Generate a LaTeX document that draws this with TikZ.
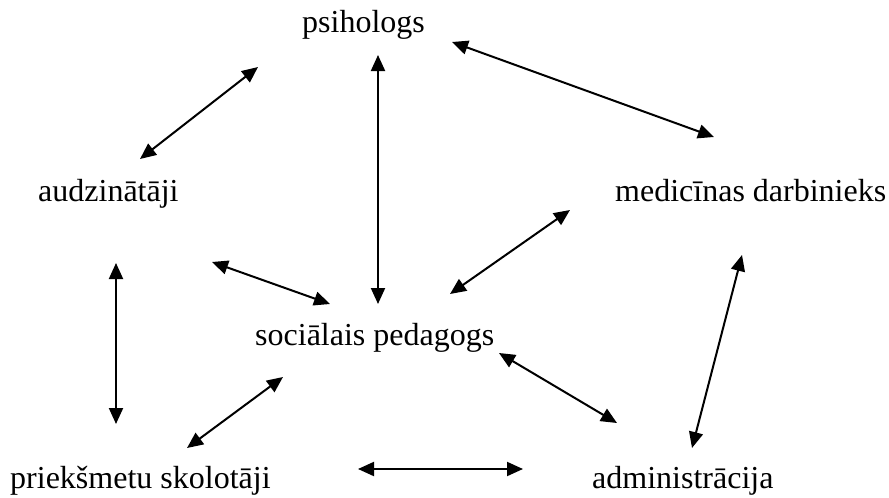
\documentclass[tikz,border=0pt]{standalone}
\usepackage{fontspec}
\setmainfont{Liberation Serif}
\usetikzlibrary{arrows.meta}
\begin{document}
\begin{tikzpicture}[x=1pt,y=-1pt,
  lbl/.style={anchor=base west,inner sep=0pt,font=\fontsize{32}{38}\selectfont},
  link/.style={line width=2pt,{Triangle[length=16pt,width=14pt]}-{Triangle[length=16pt,width=14pt]}}]
\useasboundingbox (0,0) rectangle (889,498);
\node[lbl] (psi) at (302,32) {psihologs};
\node[lbl] (aud) at (38,201) {audzinātāji};
\node[lbl] (med) at (615,201) {medicīnas darbinieks};
\node[lbl] (soc) at (255,345) {sociālais pedagogs};
\node[lbl] (pri) at (10,488) {priekšmetu skolotāji};
\node[lbl] (adm) at (592,488) {administrācija};
% arrow end points
\coordinate (psiA) at (258,67);  \coordinate (audA) at (140,159);
\coordinate (psiB) at (378,55);  \coordinate (socB) at (378,304);
\coordinate (psiC) at (452,42);  \coordinate (medC) at (714,137);
\coordinate (audD) at (212,262); \coordinate (socD) at (330,304);
\coordinate (medE) at (570,210); \coordinate (socE) at (450,294);
\coordinate (audF) at (116,263); \coordinate (priF) at (116,424);
\coordinate (socG) at (283,377); \coordinate (priG) at (187,448);
\coordinate (socH) at (499,353); \coordinate (admH) at (617,423);
\coordinate (medI) at (742,255); \coordinate (admI) at (692,448);
\coordinate (priJ) at (358,469); \coordinate (admJ) at (523,469);
\draw[link] (psiA) -- (audA);
\draw[link] (psiB) -- (socB);
\draw[link] (psiC) -- (medC);
\draw[link] (audD) -- (socD);
\draw[link] (medE) -- (socE);
\draw[link] (audF) -- (priF);
\draw[link] (socG) -- (priG);
\draw[link] (socH) -- (admH);
\draw[link] (medI) -- (admI);
\draw[link] (priJ) -- (admJ);
\end{tikzpicture}
\end{document}
